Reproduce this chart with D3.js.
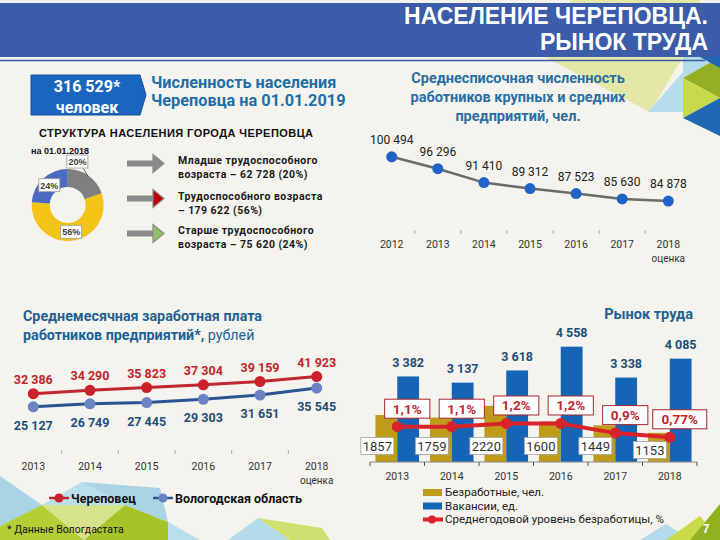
<!DOCTYPE html>
<html><head><meta charset="utf-8">
<script src="https://cdn.jsdelivr.net/npm/d3@7"></script>
<style>body{margin:0;background:#f4f3ed;} svg{display:block;}</style>
</head><body><svg id="c" width="720" height="540"></svg>
<script>
// ---------------- DATA ----------------
const titleLines = ["НАСЕЛЕНИЕ ЧЕРЕПОВЦА.", "РЫНОК ТРУДА"];
const populationBox = ["316 529*", "человек"];
const populationTitle = ["Численность населения", "Череповца на 01.01.2019"];
const structureTitle = "СТРУКТУРА НАСЕЛЕНИЯ ГОРОДА ЧЕРЕПОВЦА";
const structureDate = "на 01.01.2018";
const structureGroups = ["Младше трудоспособного", "Трудоспособного", "Старше трудоспособного"];
const structureValues = [62728, 179622, 75620];
const structureText = [
  ["Младше трудоспособного", "возраста – 62 728 (20%)"],
  ["Трудоспособного возраста", "– 179 622 (56%)"],
  ["Старше трудоспособного", "возраста – 75 620 (24%)"]
];
const structureColors = ["#7f7f7f", "#f3c317", "#4a6bbf"];
const arrowHeadColors = ["#8a8a8a", "#c00000", "#8fc265"];

const staffTitle = ["Среднесписочная численность", "работников крупных и средних", "предприятий, чел."];
const staffYears = ["2012", "2013", "2014", "2015", "2016", "2017", "2018"];
const staffYearNotes = ["", "", "", "", "", "", "оценка"];
const staffValues = [100494, 96296, 91410, 89312, 87523, 85630, 84878];

const salaryTitle = ["Среднемесячная заработная плата", "работников предприятий*, ", "рублей"];
const salaryYears = ["2013", "2014", "2015", "2016", "2017", "2018"];
const salaryYearNotes = ["", "", "", "", "", "оценка"];
const salaryCity = [32386, 34290, 35823, 37304, 39159, 41923];
const salaryRegion = [25127, 26749, 27445, 29303, 31651, 35545];
const salarySeriesNames = ["Череповец", "Вологодская область"];

const laborTitle = "Рынок труда";
const laborYears = ["2013", "2014", "2015", "2016", "2017", "2018"];
const unemployed = [1857, 1759, 2220, 1600, 1449, 1153];
const vacancies = [3382, 3137, 3618, 4558, 3338, 4085];
const unemploymentRate = [1.1, 1.1, 1.2, 1.2, 0.9, 0.77];
const laborSeriesNames = ["Безработные, чел.", "Вакансии, ед.", "Среднегодовой уровень безработицы, %"];

const footnote = "* Данные Вологдастата";
const pageNumber = "7";

// ---------------- HELPERS ----------------
const ru = d3.formatLocale({decimal: ",", thousands: "\u00a0", grouping: [3], currency: ["", ""]});
const fmtSpace = ru.format(",d");
const fmtPct = v => ru.format(".2~f")(v) + "%";
const CAL = "Roboto, 'Liberation Sans', sans-serif";
const ARI = "'Liberation Sans', Arial, sans-serif";

const svg = d3.select("#c");
svg.append("rect").attr("width", 720).attr("height", 540).attr("fill", "#f4f3ed");

// ---------------- DECORATION ----------------
const decor = [
  ["#e3e8a6", [[545, 57], [683, 57], [650, 112]]],
  ["#b7dceb", [[683, 72], [683, 112], [648, 112]]],
  ["#b3dbe9", [[683, 57], [720, 57], [683, 78]]],
  ["#93b025", [[720, 57], [683, 78], [720, 98]]],
  ["#c6da4c", [[683, 78], [720, 98], [683, 118]]],
  ["#1f68b3", [[720, 98], [683, 118], [720, 136]]],
  ["#1f68b3", [[700, 57], [720, 57], [720, 68]]],
  ["#e3e8a6", [[570, 0], [700, 0], [700, 3], [570, 3]]],
  ["#a9d4e6", [[0, 476], [42, 505], [0, 526]]],
  ["#b9deec", [[42, 505], [82, 482], [125, 505]]],
  ["#a9d4e6", [[125, 505], [82, 482], [160, 488], [168, 522]]],
  ["#b4cf36", [[0, 526], [42, 505], [84, 540], [0, 540]]],
  ["#d6e38a", [[42, 505], [125, 505], [84, 540]]],
  ["#a6c32a", [[125, 505], [84, 540], [168, 540], [168, 522]]],
  ["#b9deec", [[168, 522], [168, 540], [200, 540]]],
  ["#b4dbe9", [[228, 540], [258, 518], [290, 540]]],
  ["#cfe070", [[290, 540], [258, 518], [322, 528], [330, 540]]],
  ["#b4dbe9", [[640, 540], [666, 524], [692, 540]]],
  ["#c8dc4a", [[666, 540], [700, 516], [720, 540]]],
  ["#8fb21e", [[690, 540], [720, 504], [720, 540]]]
];
svg.append("g").selectAll("polygon").data(decor).join("polygon")
  .attr("points", d => d[1].map(p => p.join(",")).join(" "))
  .attr("fill", d => d[0]);

// ---------------- HEADER ----------------
svg.append("rect").attr("x", 0).attr("y", 3).attr("width", 720).attr("height", 54).attr("fill", "#3b5ca8");
svg.append("line").attr("x1", 0).attr("x2", 705).attr("y1", 60.5).attr("y2", 60.5).attr("stroke", "#3b5ca8").attr("stroke-width", 1.5);
svg.append("g").selectAll("text").data(titleLines).join("text")
  .attr("x", 708).attr("y", (d, i) => 23.5 + i * 26.5)
  .attr("text-anchor", "end").attr("fill", "#fff")
  .attr("font-family", ARI).attr("font-weight", "bold").attr("font-size", 23)
  .text(d => d);

// ---------------- POPULATION BOX ----------------
svg.append("polygon").attr("points", "31,75 140,75 146,95 140,115 31,115")
  .attr("fill", "#1a66bf").attr("stroke", "#124f99").attr("stroke-width", 1);
svg.append("g").selectAll("text").data(populationBox).join("text")
  .attr("x", 87).attr("y", (d, i) => 92 + i * 21)
  .attr("text-anchor", "middle").attr("fill", "#fff")
  .attr("font-family", CAL).attr("font-weight", "bold").attr("font-size", 16)
  .text(d => d);
svg.append("g").selectAll("text").data(populationTitle).join("text")
  .attr("x", 151).attr("y", (d, i) => 88 + i * 18)
  .attr("fill", "#1e6ea8")
  .attr("font-family", CAL).attr("font-weight", "bold").attr("font-size", 16.3)
  .text(d => d);

svg.append("text").attr("x", 39).attr("y", 137)
  .attr("font-family", ARI).attr("font-weight", "bold").attr("font-size", 11).attr("fill", "#111")
  .attr("letter-spacing", 0.45)
  .text(structureTitle);

// ---------------- DONUT ----------------
const donut = svg.append("g").attr("transform", "translate(67.7,205)");
const pie = d3.pie().sort(null).value(d => d)(structureValues);
const arc = d3.arc().innerRadius(18).outerRadius(36);
const labArc = d3.arc().innerRadius(27).outerRadius(27);
const total = d3.sum(structureValues);
donut.selectAll("path").data(pie).join("path")
  .attr("d", arc).attr("fill", (d, i) => structureColors[i]);
const labPos = pie.map((d, i) => {
  const c = labArc.centroid(d);
  if (i === 0) return [c[0] - 6, c[1] - 21.5];
  return c;
});
const outerMid = d3.arc().innerRadius(35).outerRadius(35).centroid(pie[0]);
donut.append("line").attr("x1", labPos[0][0] + 6).attr("y1", labPos[0][1] + 7)
  .attr("x2", outerMid[0]).attr("y2", outerMid[1]).attr("stroke", "#333").attr("stroke-width", 0.8);
const lbl = donut.selectAll("g.lb").data(pie).join("g").attr("class", "lb")
  .attr("transform", (d, i) => `translate(${labPos[i][0]},${labPos[i][1]})`);
lbl.append("rect").attr("x", -10.5).attr("y", -6.5).attr("width", 21).attr("height", 13)
  .attr("fill", "#fff").attr("stroke", "#9a9a9a").attr("stroke-width", 0.8);
lbl.append("text").attr("text-anchor", "middle").attr("y", 3.5)
  .attr("font-family", ARI).attr("font-weight", "bold").attr("font-size", 9).attr("fill", "#404040")
  .text(d => d3.format(".0%")(d.value / total));
svg.append("text").attr("x", 31).attr("y", 153.5)
  .attr("font-family", ARI).attr("font-weight", "bold").attr("font-size", 9).attr("fill", "#111")
  .text(structureDate);

// ---------------- ARROWS ----------------
const arrowY = d3.scalePoint().domain(structureGroups).range([163.5, 233.5]);
const ag = svg.append("g").selectAll("g").data(structureGroups).join("g")
  .attr("transform", d => `translate(0,${arrowY(d)})`);
ag.append("rect").attr("x", 127).attr("y", -3).attr("width", 27).attr("height", 6).attr("fill", "#8a8a8a");
ag.append("polygon").attr("points", "153,-9 164,0 153,9")
  .attr("fill", (d, i) => arrowHeadColors[i]).attr("stroke", "#8a8a8a").attr("stroke-width", 1.2);
ag.each(function(d, i) {
  d3.select(this).selectAll("text").data(structureText[i]).join("text")
    .attr("x", 178).attr("y", (t, j) => j * 14 + (i === 1 ? 1.5 : 0))
    .attr("font-family", CAL).attr("font-weight", "bold").attr("font-size", 10.5).attr("fill", "#1a1a1a")
    .attr("letter-spacing", 0.45)
    .text(t => t);
});

// ---------------- STAFF LINE CHART ----------------
svg.append("g").selectAll("text").data(staffTitle).join("text")
  .attr("x", 518).attr("y", (d, i) => 83 + i * 19)
  .attr("text-anchor", "middle").attr("fill", "#2a6ea3")
  .attr("font-family", CAL).attr("font-weight", "bold").attr("font-size", 14.5)
  .text(d => d);
const sx = d3.scalePoint().domain(staffYears).range([391.7, 668.3]);
const sy = d3.scaleLinear().domain([74000, 105000]).range([232, 144]);
const sStep = sx.step();
svg.append("g").selectAll("line").data(staffYears.slice(1)).join("line")
  .attr("x1", d => sx(d) - sStep / 2).attr("x2", d => sx(d) - sStep / 2)
  .attr("y1", 230).attr("y2", 234).attr("stroke", "#999").attr("stroke-width", 0.8);
svg.append("path").datum(staffValues)
  .attr("d", d3.line().x((d, i) => sx(staffYears[i])).y(d => sy(d)))
  .attr("fill", "none").attr("stroke", "#6a6a6a").attr("stroke-width", 2.5);
svg.append("g").selectAll("circle").data(staffValues).join("circle")
  .attr("cx", (d, i) => sx(staffYears[i])).attr("cy", d => sy(d)).attr("r", 5.5).attr("fill", "#1f63c6");
svg.append("g").selectAll("text").data(staffValues).join("text")
  .attr("x", (d, i) => sx(staffYears[i])).attr("y", d => sy(d) - 13)
  .attr("text-anchor", "middle").attr("font-family", CAL).attr("font-size", 12).attr("fill", "#222")
  .text(d => fmtSpace(d));
svg.append("g").selectAll("text").data(staffYears).join("text")
  .attr("x", d => sx(d)).attr("y", 247.5)
  .attr("text-anchor", "middle").attr("font-family", CAL).attr("font-size", 10.5).attr("fill", "#333")
  .text(d => d);
svg.append("g").selectAll("text").data(staffYearNotes).join("text")
  .attr("x", (d, i) => sx(staffYears[i])).attr("y", 261.5)
  .attr("text-anchor", "middle").attr("font-family", CAL).attr("font-size", 10).attr("fill", "#333")
  .text(d => d);

// ---------------- SALARY CHART ----------------
const st = svg.append("g").attr("font-family", CAL).attr("font-size", 14.3).attr("fill", "#1f6193");
st.append("text").attr("x", 23).attr("y", 321).attr("font-weight", "bold").text(salaryTitle[0]);
const st2 = st.append("text").attr("x", 23).attr("y", 340);
st2.append("tspan").attr("font-weight", "bold").text(salaryTitle[1]);
st2.append("tspan").attr("font-weight", "normal").text(salaryTitle[2]);

const wx = d3.scalePoint().domain(salaryYears).range([33.3, 316.7]);
const wy = d3.scaleLinear().domain([0, 50000]).range([452, 362]);
const wStep = wx.step();
svg.append("g").selectAll("line").data(salaryYears.slice(1)).join("line")
  .attr("x1", d => wx(d) - wStep / 2).attr("x2", d => wx(d) - wStep / 2)
  .attr("y1", 450).attr("y2", 454).attr("stroke", "#999").attr("stroke-width", 0.8);
const salarySeries = [
  {vals: salaryCity, line: "#c0262d", dot: "#c9202a", text: "#c0262d", dy: -10},
  {vals: salaryRegion, line: "#2a5493", dot: "#6b82c4", text: "#1f4e79", dy: 23}
];
salarySeries.forEach(s => {
  svg.append("path").datum(s.vals)
    .attr("d", d3.line().x((d, i) => wx(salaryYears[i])).y(d => wy(d)))
    .attr("fill", "none").attr("stroke", s.line).attr("stroke-width", 3);
  svg.append("g").selectAll("circle").data(s.vals).join("circle")
    .attr("cx", (d, i) => wx(salaryYears[i])).attr("cy", d => wy(d)).attr("r", 5.5).attr("fill", s.dot);
  svg.append("g").selectAll("text").data(s.vals).join("text")
    .attr("x", (d, i) => wx(salaryYears[i])).attr("y", d => wy(d) + s.dy)
    .attr("text-anchor", "middle").attr("font-family", CAL).attr("font-weight", "bold")
    .attr("font-size", 12.5).attr("fill", s.text)
    .text(d => fmtSpace(d));
});
svg.append("g").selectAll("text").data(salaryYears).join("text")
  .attr("x", d => wx(d)).attr("y", 470)
  .attr("text-anchor", "middle").attr("font-family", CAL).attr("font-size", 10.5).attr("fill", "#333")
  .text(d => d);
svg.append("g").selectAll("text").data(salaryYearNotes).join("text")
  .attr("x", (d, i) => wx(salaryYears[i])).attr("y", 483.5)
  .attr("text-anchor", "middle").attr("font-family", CAL).attr("font-size", 10).attr("fill", "#333")
  .text(d => d);
const wl = svg.append("g").selectAll("g").data(salarySeriesNames).join("g")
  .attr("transform", (d, i) => `translate(${i === 0 ? 49 : 153},498)`);
wl.append("line").attr("x1", 0).attr("x2", 20).attr("stroke", (d, i) => salarySeries[i].line).attr("stroke-width", 2.5);
wl.append("circle").attr("cx", 10).attr("r", 4.5).attr("fill", (d, i) => salarySeries[i].dot);
wl.append("text").attr("x", 22).attr("y", 4.5)
  .attr("font-family", CAL).attr("font-weight", "bold").attr("font-size", 12.5).attr("fill", "#111")
  .text(d => d);

svg.append("text").attr("x", 7).attr("y", 533).attr("font-family", CAL).attr("font-size", 10.5).attr("fill", "#111").text(footnote);

// ---------------- LABOR MARKET CHART ----------------
svg.append("text").attr("x", 693).attr("y", 318.5).attr("text-anchor", "end")
  .attr("font-family", CAL).attr("font-weight", "bold").attr("font-size", 14.5).attr("fill", "#1f6193")
  .text(laborTitle);
const lx = d3.scaleBand().domain(laborYears).range([370, 697]).paddingInner(0.2).paddingOuter(0.1);
const ly = d3.scaleLinear().domain([0, 5000]).range([462, 335.5]);
const ly2 = d3.scaleLinear().domain([0, 4]).range([462, 333.6]);
const bw = lx.bandwidth() / 2;
const gold = "#bf9b1c", blue = "#1664b5", red = "#d9232a";
svg.append("g").selectAll("rect").data(unemployed).join("rect")
  .attr("x", (d, i) => lx(laborYears[i])).attr("width", bw)
  .attr("y", d => ly(d)).attr("height", d => ly(0) - ly(d)).attr("fill", gold);
svg.append("g").selectAll("rect").data(vacancies).join("rect")
  .attr("x", (d, i) => lx(laborYears[i]) + bw).attr("width", bw)
  .attr("y", d => ly(d)).attr("height", d => ly(0) - ly(d)).attr("fill", blue);
svg.append("line").attr("x1", 370).attr("x2", 697).attr("y1", 462).attr("y2", 462).attr("stroke", "#8a8a8a").attr("stroke-width", 1);
svg.append("g").selectAll("line").data(d3.range(laborYears.length + 1)).join("line")
  .attr("x1", i => 370 + i * lx.step()).attr("x2", i => 370 + i * lx.step())
  .attr("y1", 462).attr("y2", 466).attr("stroke", "#555").attr("stroke-width", 1);
svg.append("g").selectAll("text").data(laborYears).join("text")
  .attr("x", d => lx(d) + bw).attr("y", 480)
  .attr("text-anchor", "middle").attr("font-family", CAL).attr("font-size", 10.5).attr("fill", "#333")
  .text(d => d);
svg.append("g").selectAll("text").data(vacancies).join("text")
  .attr("x", (d, i) => lx(laborYears[i]) + bw * 1.5).attr("y", d => ly(d) - 9.5)
  .attr("text-anchor", "middle").attr("font-family", CAL).attr("font-weight", "bold")
  .attr("font-size", 12.5).attr("fill", "#1f4e79")
  .text(d => fmtSpace(d));
const rx = (d, i) => lx(laborYears[i]) + bw;
svg.append("path").datum(unemploymentRate)
  .attr("d", d3.line().x(rx).y(d => ly2(d)))
  .attr("fill", "none").attr("stroke", red).attr("stroke-width", 4);
svg.append("g").selectAll("circle").data(unemploymentRate).join("circle")
  .attr("cx", rx).attr("cy", d => ly2(d)).attr("r", 5.5).attr("fill", red);
const ug = svg.append("g").selectAll("g").data(unemployed).join("g")
  .attr("transform", (d, i) => `translate(${lx(laborYears[i]) + bw / 2 - 9},${446 + (i === 5 ? 4 : 0)})`);
ug.append("rect").attr("x", -16.5).attr("y", -8.5).attr("width", 33).attr("height", 17)
  .attr("fill", "#fff").attr("stroke", "#a0a0a0").attr("stroke-width", 0.8);
ug.append("text").attr("text-anchor", "middle").attr("y", 4.8)
  .attr("font-family", CAL).attr("font-size", 13).attr("fill", "#333").text(d => d);
const rg = svg.append("g").selectAll("g").data(unemploymentRate).join("g")
  .attr("transform", (d, i) => `translate(${rx(d, i) + 10},${ly2(d) - 18})`);
rg.append("rect").attr("x", d => -(fmtPct(d).length * 4.4 + 5)).attr("y", -9.5)
  .attr("width", d => 2 * (fmtPct(d).length * 4.4 + 5)).attr("height", 19)
  .attr("fill", "#fff").attr("stroke", "#a8262b").attr("stroke-width", 1);
rg.append("text").attr("text-anchor", "middle").attr("y", 4.8)
  .attr("font-family", CAL).attr("font-weight", "bold").attr("font-size", 13.5).attr("fill", "#c0262d")
  .text(d => fmtPct(d));
const ll = svg.append("g").selectAll("g").data(laborSeriesNames).join("g")
  .attr("transform", (d, i) => `translate(423,${492.5 + i * 13.5})`);
ll.each(function(d, i) {
  const g = d3.select(this);
  if (i < 2) {
    g.append("rect").attr("x", 0).attr("y", -3.5).attr("width", 19).attr("height", 7).attr("fill", i === 0 ? gold : blue);
  } else {
    g.append("line").attr("x1", 0).attr("x2", 20).attr("stroke", red).attr("stroke-width", 4);
    g.append("circle").attr("cx", 9).attr("r", 4).attr("fill", red);
  }
});
ll.append("text").attr("x", 22).attr("y", 3.5)
  .attr("font-family", CAL).attr("font-size", 11.5).attr("fill", "#222").text(d => d);

svg.append("text").attr("x", 706).attr("y", 533).attr("text-anchor", "middle")
  .attr("font-family", ARI).attr("font-weight", "bold").attr("font-size", 12).attr("fill", "#fff").text(pageNumber);
</script>
</body></html>
